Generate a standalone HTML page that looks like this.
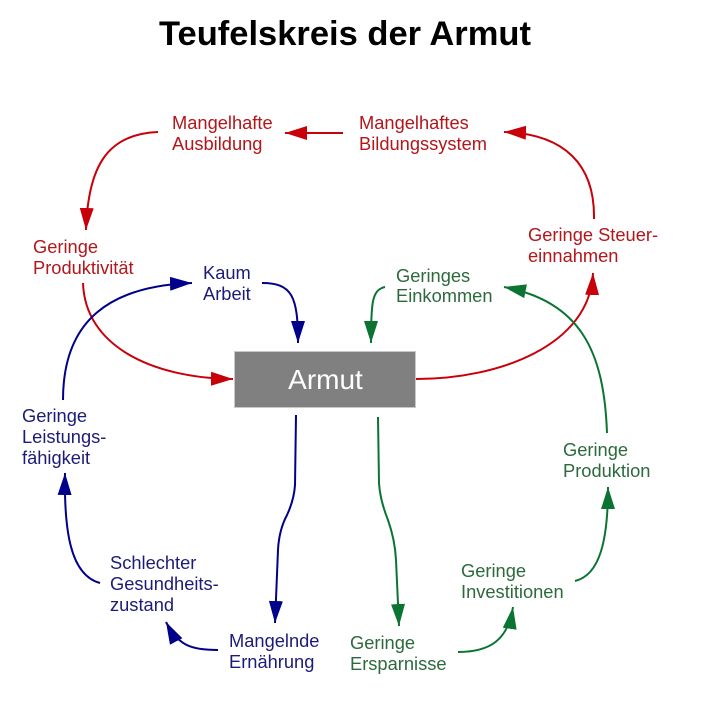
<!DOCTYPE html>
<html>
<head>
<meta charset="utf-8">
<style>
  html, body { margin:0; padding:0; background:#ffffff; }
  svg { display:block; }
  text { font-family: "Liberation Sans", Arial, sans-serif; }
  .r { fill:#b3161b; font-size:18.3px; }
  .b { fill:#1c1c78; font-size:18.3px; }
  .g { fill:#2c6a3c; font-size:18.3px; }
</style>
</head>
<body>
<svg width="711" height="701" viewBox="0 0 711 701" xmlns="http://www.w3.org/2000/svg">
  <defs>
    <marker id="ar" markerUnits="userSpaceOnUse" markerWidth="24" markerHeight="16" refX="22" refY="7" orient="auto">
      <path d="M0,0 L22,7 L0,14 z" fill="#c8000a"/>
    </marker>
    <marker id="ab" markerUnits="userSpaceOnUse" markerWidth="24" markerHeight="16" refX="22" refY="7" orient="auto">
      <path d="M0,0 L22,7 L0,14 z" fill="#00008b"/>
    </marker>
    <marker id="ag" markerUnits="userSpaceOnUse" markerWidth="24" markerHeight="16" refX="22" refY="7" orient="auto">
      <path d="M0,0 L22,7 L0,14 z" fill="#0b7432"/>
    </marker>
  </defs>

  <rect x="0" y="0" width="711" height="701" fill="#ffffff"/>

  <!-- Title -->
  <text x="345" y="45" text-anchor="middle" font-size="34.5" font-weight="bold" fill="#000">Teufelskreis der Armut</text>

  <!-- Central box -->
  <rect x="234.5" y="351.5" width="181" height="56" fill="#808080" stroke="#c8c8c8" stroke-width="1"/>
  <text x="325.5" y="389" text-anchor="middle" font-size="28" fill="#ffffff">Armut</text>

  <!-- Red connectors -->
  <g fill="none" stroke="#c8000a" stroke-width="2">
    <path d="M343,133 L285,133" marker-end="url(#ar)"/>
    <path d="M158,132 C106,134 88,168 86,230" marker-end="url(#ar)"/>
    <path d="M83,283 C85,345 150,378 233,379" marker-end="url(#ar)"/>
    <path d="M416,379 C500,379 590,345 593,273" marker-end="url(#ar)"/>
    <path d="M594,219 C595,165 565,134 504,132" marker-end="url(#ar)"/>
  </g>

  <!-- Blue connectors -->
  <g fill="none" stroke="#00008b" stroke-width="2">
    <path d="M262,283 C292,283 298,296 298,343" marker-end="url(#ab)"/>
    <path d="M63,400 C63,320 110,286 192,283" marker-end="url(#ab)"/>
    <path d="M296,415 L295,485 Q294,500 287,515 Q279,530 278,550 L275,623" marker-end="url(#ab)"/>
    <path d="M218,650 C190,650 178,645 166,622" marker-end="url(#ab)"/>
    <path d="M100,583 C70,575 64,530 65,473" marker-end="url(#ab)"/>
  </g>

  <!-- Green connectors -->
  <g fill="none" stroke="#0b7432" stroke-width="2">
    <path d="M385,287 C372,290 371,302 371,343" marker-end="url(#ag)"/>
    <path d="M607,433 C604,350 580,302 504,287" marker-end="url(#ag)"/>
    <path d="M378,417 L379,483 Q380,500 388,520 Q395,540 396,560 L399,626" marker-end="url(#ag)"/>
    <path d="M458,652 C490,652 508,640 513,607" marker-end="url(#ag)"/>
    <path d="M575,581 C600,575 608,540 608,487" marker-end="url(#ag)"/>
  </g>

  <!-- Red labels -->
  <text class="r" x="172" y="129">Mangelhafte</text>
  <text class="r" x="172" y="150">Ausbildung</text>
  <text class="r" x="359" y="129">Mangelhaftes</text>
  <text class="r" x="359" y="150">Bildungssystem</text>
  <text class="r" x="33" y="253">Geringe</text>
  <text class="r" x="33" y="274">Produktivität</text>
  <text class="r" x="528" y="241">Geringe Steuer-</text>
  <text class="r" x="528" y="262">einnahmen</text>

  <!-- Blue labels -->
  <text class="b" x="203" y="279">Kaum</text>
  <text class="b" x="203" y="300">Arbeit</text>
  <text class="b" x="22" y="422">Geringe</text>
  <text class="b" x="22" y="443">Leistungs-</text>
  <text class="b" x="22" y="464">fähigkeit</text>
  <text class="b" x="110" y="569">Schlechter</text>
  <text class="b" x="110" y="590">Gesundheits-</text>
  <text class="b" x="110" y="611">zustand</text>
  <text class="b" x="229" y="647">Mangelnde</text>
  <text class="b" x="229" y="668">Ernährung</text>

  <!-- Green labels -->
  <text class="g" x="396" y="282">Geringes</text>
  <text class="g" x="396" y="302">Einkommen</text>
  <text class="g" x="350" y="649">Geringe</text>
  <text class="g" x="350" y="670">Ersparnisse</text>
  <text class="g" x="461" y="577">Geringe</text>
  <text class="g" x="461" y="598">Investitionen</text>
  <text class="g" x="563" y="456">Geringe</text>
  <text class="g" x="563" y="477">Produktion</text>
</svg>
</body>
</html>
